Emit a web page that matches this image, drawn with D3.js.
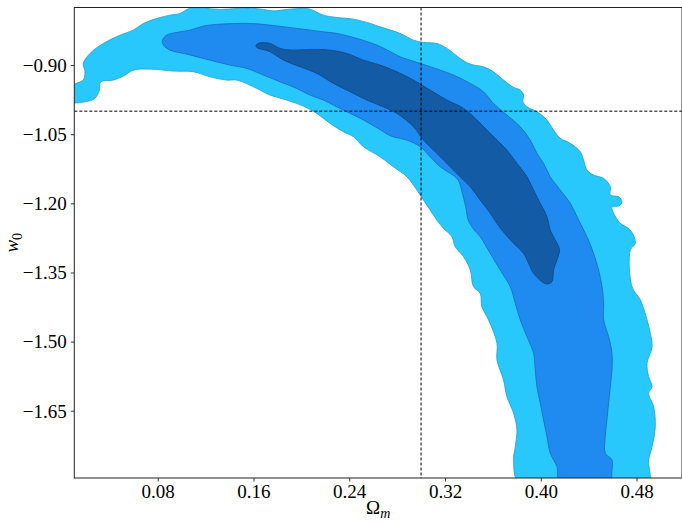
<!DOCTYPE html>
<html>
<head>
<meta charset="utf-8">
<script src="https://cdn.jsdelivr.net/npm/d3@7"></script>
<style>
  html, body { margin: 0; padding: 0; background: #ffffff; }
  svg { display: block; }
</style>
</head>
<body>
<svg id="chart" width="682" height="524"></svg>
<script>
// ---- data ----
const xTicks = [0.08, 0.16, 0.24, 0.32, 0.40, 0.48];
const yTicks = [-0.90, -1.05, -1.20, -1.35, -1.50, -1.65];
const xDomain = [0.0103, 0.518];
const yDomain = [-1.796, -0.775];
const fiducialOm = 0.30;
const fiducialW = -1.0;
const xLabel = "Ω";
const xLabelSub = "m";
const yLabel = "w";
const yLabelSub = "0";

// outer (lightest) credible region outline [Omega_m, w0]
const outerContour = [
  [0.0084,-0.9456],[0.0178,-0.9325],[0.0192,-0.9145],[0.0178,-0.8963],[0.0234,-0.8747],
  [0.0345,-0.8530],[0.0485,-0.8350],[0.0596,-0.8241],[0.0680,-0.8096],[0.0792,-0.7987],
  [0.0903,-0.7916],[0.0986,-0.7879],[0.1070,-0.7764],[0.1181,-0.7764],[0.1321,-0.7792],
  [0.1460,-0.7771],[0.1572,-0.7764],[0.1683,-0.7792],[0.1766,-0.7823],[0.1878,-0.7792],
  [0.2017,-0.7771],[0.2073,-0.7786],[0.2184,-0.7916],[0.2296,-0.7966],[0.2435,-0.8003],
  [0.2575,-0.8096],[0.2658,-0.8170],[0.2826,-0.8313],[0.2937,-0.8458],[0.3020,-0.8508],
  [0.3132,-0.8530],[0.3216,-0.8638],[0.3327,-0.8855],[0.3411,-0.8979],[0.3522,-0.9037],
  [0.3605,-0.9145],[0.3689,-0.9325],[0.3773,-0.9484],[0.3829,-0.9542],[0.3856,-0.9651],
  [0.3851,-0.9796],[0.3885,-0.9905],[0.3968,-1.0013],[0.4052,-1.0193],[0.4107,-1.0410],
  [0.4163,-1.0590],[0.4247,-1.0698],[0.4330,-1.0880],[0.4358,-1.1061],[0.4386,-1.1277],
  [0.4441,-1.1386],[0.4525,-1.1458],[0.4581,-1.1640],[0.4581,-1.1820],[0.4650,-1.1856],
  [0.4679,-1.1965],[0.4650,-1.2058],[0.4595,-1.2073],[0.4609,-1.2216],[0.4665,-1.2433],
  [0.4748,-1.2579],[0.4790,-1.2867],[0.4748,-1.3012],[0.4762,-1.3808],[0.4832,-1.4097],
  [0.4888,-1.4530],[0.4915,-1.4819],[0.4930,-1.5110],[0.4888,-1.5470],[0.4901,-1.5760],
  [0.4930,-1.5977],[0.4901,-1.6120],[0.4943,-1.6411],[0.4957,-1.6844],[0.4930,-1.7278],
  [0.4901,-1.7567],[0.4893,-1.8109],[0.3829,-1.8109],[0.3773,-1.7567],[0.3787,-1.7278],
  [0.3801,-1.6916],[0.3773,-1.6554],[0.3717,-1.6194],[0.3689,-1.5832],[0.3634,-1.5398],
  [0.3634,-1.5036],[0.3564,-1.4530],[0.3508,-1.4242],[0.3494,-1.3952],[0.3438,-1.3808],
  [0.3411,-1.3446],[0.3355,-1.3157],[0.3285,-1.2941],[0.3258,-1.2724],[0.3187,-1.2542],
  [0.3132,-1.2362],[0.3076,-1.2145],[0.3020,-1.1928],[0.2965,-1.1711],[0.2881,-1.1423],
  [0.2769,-1.1206],[0.2658,-1.0989],[0.2519,-1.0772],[0.2435,-1.0555],[0.2352,-1.0447],
  [0.2240,-1.0265],[0.2129,-1.0048],[0.2017,-0.9889],[0.1878,-0.9759],[0.1739,-0.9651],
  [0.1628,-0.9506],[0.1460,-0.9325],[0.1377,-0.9325],[0.1237,-0.9254],[0.1098,-0.9145],
  [0.0930,-0.9130],[0.0736,-0.9087],[0.0596,-0.9109],[0.0512,-0.9239],[0.0429,-0.9325],
  [0.0324,-0.9362],[0.0312,-0.9542],[0.0276,-0.9722],[0.0192,-0.9796],[0.0084,-0.9796]
];

// middle credible region outline
const middleContour = [
  [0.0847,-0.8566],[0.0840,-0.8458],[0.0875,-0.8350],[0.0959,-0.8291],[0.1070,-0.8241],
  [0.1181,-0.8154],[0.1293,-0.8117],[0.1572,-0.8096],[0.1739,-0.8133],[0.1962,-0.8204],
  [0.2184,-0.8278],[0.2296,-0.8313],[0.2464,-0.8421],[0.2631,-0.8566],[0.2742,-0.8707],
  [0.2826,-0.8820],[0.2993,-0.8963],[0.3160,-0.9109],[0.3271,-0.9217],[0.3411,-0.9397],
  [0.3522,-0.9579],[0.3605,-0.9831],[0.3717,-1.0085],[0.3829,-1.0338],[0.3912,-1.0627],
  [0.3968,-1.0915],[0.4023,-1.1132],[0.4079,-1.1423],[0.4163,-1.1711],[0.4247,-1.2000],
  [0.4316,-1.2362],[0.4386,-1.2724],[0.4441,-1.3084],[0.4483,-1.3446],[0.4512,-1.3808],
  [0.4525,-1.4168],[0.4525,-1.4530],[0.4567,-1.4893],[0.4595,-1.5253],[0.4595,-1.5615],
  [0.4581,-1.5977],[0.4567,-1.6337],[0.4553,-1.6699],[0.4539,-1.7061],[0.4539,-1.7421],
  [0.4595,-1.7567],[0.4595,-1.7784],[0.4567,-1.8109],[0.4163,-1.8109],[0.4135,-1.7712],
  [0.4079,-1.7421],[0.4052,-1.7061],[0.4023,-1.6699],[0.3996,-1.6337],[0.3968,-1.5977],
  [0.3954,-1.5615],[0.3940,-1.5253],[0.3885,-1.4893],[0.3829,-1.4530],[0.3787,-1.4168],
  [0.3745,-1.3808],[0.3661,-1.3446],[0.3578,-1.3084],[0.3494,-1.2724],[0.3444,-1.2579],
  [0.3394,-1.2362],[0.3373,-1.2073],[0.3344,-1.1776],[0.3310,-1.1494],[0.3243,-1.1349],
  [0.3160,-1.1206],[0.3076,-1.0989],[0.2993,-1.0772],[0.2881,-1.0627],[0.2750,-1.0540],
  [0.2642,-1.0377],[0.2519,-1.0193],[0.2408,-1.0048],[0.2296,-0.9905],[0.2184,-0.9759],
  [0.2073,-0.9651],[0.1962,-0.9506],[0.1822,-0.9362],[0.1683,-0.9217],[0.1544,-0.9072],
  [0.1404,-0.9000],[0.1237,-0.8892],[0.1042,-0.8762],[0.0903,-0.8675]
];

// inner (darkest) credible region outline
const innerContour = [
  [0.1622,-0.8566],[0.1655,-0.8517],[0.1739,-0.8530],[0.1822,-0.8638],[0.1934,-0.8675],
  [0.2073,-0.8660],[0.2240,-0.8675],[0.2380,-0.8747],[0.2519,-0.8892],[0.2658,-0.9000],
  [0.2798,-0.9145],[0.2937,-0.9325],[0.3076,-0.9542],[0.3216,-0.9759],[0.3355,-0.9939],
  [0.3467,-1.0193],[0.3550,-1.0410],[0.3634,-1.0627],[0.3717,-1.0844],[0.3801,-1.1132],
  [0.3885,-1.1423],[0.3940,-1.1711],[0.3996,-1.2000],[0.4052,-1.2290],[0.4079,-1.2579],
  [0.4107,-1.2724],[0.4157,-1.3012],[0.4135,-1.3229],[0.4107,-1.3446],[0.4094,-1.3700],
  [0.4052,-1.3750],[0.4010,-1.3700],[0.3940,-1.3518],[0.3898,-1.3301],[0.3856,-1.3084],
  [0.3773,-1.2867],[0.3661,-1.2535],[0.3578,-1.2216],[0.3494,-1.1928],[0.3411,-1.1640],
  [0.3327,-1.1423],[0.3243,-1.1206],[0.3132,-1.0915],[0.3020,-1.0627],[0.2937,-1.0338],
  [0.2798,-1.0048],[0.2658,-0.9878],[0.2547,-0.9759],[0.2408,-0.9579],[0.2268,-0.9397],
  [0.2129,-0.9180],[0.1990,-0.9037],[0.1850,-0.8892],[0.1739,-0.8712],[0.1628,-0.8616]
];

const regions = [
  { pts: outerContour,  fill: "#29c8fc", stroke: "#1c9fd0" },
  { pts: middleContour, fill: "#1f8bf0", stroke: "#1769b8" },
  { pts: innerContour,  fill: "#135ba5", stroke: "#0f4680" }
];

// ---- layout ----
const W = 682, H = 524;
const pLeft = 74.3, pRight = 682, pTop = 7.5, pBottom = 478;
const FONT = "'Liberation Serif', 'DejaVu Serif', serif";

const svg = d3.select("#chart");
svg.append("rect").attr("width", W).attr("height", H).attr("fill", "#fff");

const x = d3.scaleLinear().domain(xDomain).range([pLeft, pRight]);
const y = d3.scaleLinear().domain(yDomain).range([pBottom, pTop]);

svg.append("defs").append("clipPath").attr("id", "plotclip")
  .append("rect").attr("x", pLeft).attr("y", pTop)
  .attr("width", pRight - pLeft).attr("height", pBottom - pTop);

const plot = svg.append("g").attr("clip-path", "url(#plotclip)");

const line = d3.line()
  .x(d => x(d[0])).y(d => y(d[1]))
  .curve(d3.curveCatmullRomClosed.alpha(0.5));

regions.forEach(r => {
  plot.append("path")
    .attr("d", line(r.pts))
    .attr("fill", r.fill)
    .attr("stroke", r.stroke)
    .attr("stroke-width", 0.8);
});

// fiducial dashed lines
plot.append("line")
  .attr("x1", x(fiducialOm)).attr("x2", x(fiducialOm))
  .attr("y1", pTop).attr("y2", pBottom)
  .attr("stroke", "#000").attr("stroke-width", 1)
  .attr("stroke-dasharray", "3,2");
plot.append("line")
  .attr("x1", pLeft).attr("x2", pRight)
  .attr("y1", y(fiducialW)).attr("y2", y(fiducialW))
  .attr("stroke", "#000").attr("stroke-width", 1)
  .attr("stroke-dasharray", "3,2");

// axes
const fmt = d => d3.format(".2f")(d).replace("-", "\u2212");

const xAxis = d3.axisBottom(x).tickValues(xTicks).tickFormat(fmt).tickSize(3.5).tickPadding(4);
const yAxis = d3.axisLeft(y).tickValues(yTicks).tickFormat(fmt).tickSize(3.5).tickPadding(4);

const gx = svg.append("g").attr("transform", `translate(0,${pBottom})`).call(xAxis);
const gy = svg.append("g").attr("transform", `translate(${pLeft},0)`).call(yAxis);

[gx, gy].forEach(g => {
  g.select(".domain").remove();
  g.selectAll(".tick line").attr("stroke", "#000").attr("stroke-width", 0.8);
  g.selectAll(".tick text").attr("fill", "#000")
    .style("font-family", FONT).style("font-size", "19px");
});
gx.selectAll(".tick text").attr("dy", null).attr("y", 20);
gy.selectAll(".tick text").attr("dy", "0.33em");

// frame
svg.append("rect")
  .attr("x", pLeft).attr("y", pTop)
  .attr("width", pRight - pLeft).attr("height", pBottom - pTop)
  .attr("fill", "none").attr("stroke", "#222").attr("stroke-width", 1);

// axis labels
const xl = svg.append("text")
  .attr("x", (pLeft + pRight) / 2).attr("y", 514)
  .attr("text-anchor", "middle")
  .style("font-family", FONT).style("font-size", "19px").attr("fill", "#000");
xl.append("tspan").text(xLabel);
xl.append("tspan").text(xLabelSub).style("font-style", "italic")
  .style("font-size", "14px").attr("dy", 4);

const yl = svg.append("text")
  .attr("transform", `translate(18,${(pTop + pBottom) / 2}) rotate(-90)`)
  .attr("text-anchor", "middle")
  .style("font-family", FONT).style("font-size", "19px").attr("fill", "#000");
yl.append("tspan").text(yLabel).style("font-style", "italic");
yl.append("tspan").text(yLabelSub).style("font-size", "14px").attr("dy", 4);
</script>
</body>
</html>
